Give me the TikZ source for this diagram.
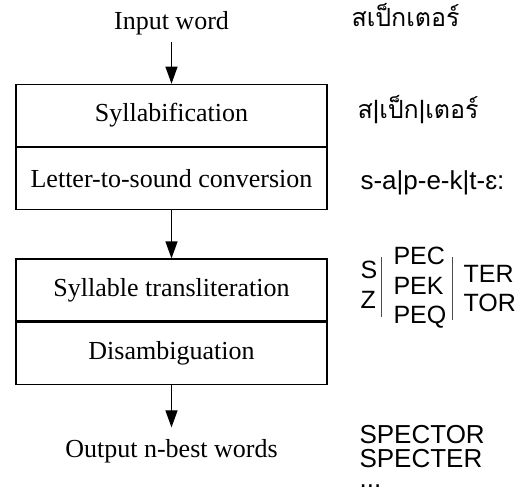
\documentclass[tikz,border=0pt]{standalone}
\usepackage{fontspec}
\setmainfont{Liberation Serif}
\setsansfont{Liberation Sans}
\newfontfamily\thaifont[Script=Thai]{Loma}
\usetikzlibrary{arrows.meta,positioning}
\tikzset{
  every picture/.style={line width=1.1pt},
  stage/.style={draw=black, minimum width=311pt, minimum height=62pt, inner sep=0pt,
    font=\fontsize{26}{31}\selectfont},
  ioword/.style={anchor=base, inner xsep=2pt, font=\fontsize{26}{31}\selectfont},
  arrow/.style={-{Triangle[length=17pt,width=12pt]}, draw=black},
  sample/.style={anchor=base west, inner sep=0pt, font=\sffamily\fontsize{26}{31}\selectfont},
  thaisample/.style={anchor=base west, inner sep=0pt, font=\thaifont\fontsize{25}{30}\selectfont},
  option/.style={sample, font=\sffamily\fontsize{25}{30}\selectfont},
  bar/.style={draw=black!70, line width=0.8pt},
}

\begin{document}
\begin{tikzpicture}[x=1pt, y=-1pt]
  \useasboundingbox (0,0) rectangle (522,489);
  \node[ioword, inner ysep=6pt] (in) at (171.5,30) {Input word};
  \node[stage] (syl) at (171.5,115.3) {Syllabification};
  \node[stage, below=0pt of syl] (lts) {Letter-to-sound conversion};
  \node[stage] (tr) at (171.5,290) {Syllable transliteration};
  \node[stage, below=0pt of tr] (dis) {Disambiguation};
  \node[ioword, inner ysep=11pt] (out) at (171.5,457) {Output n-best words};
  \foreach \a/\b in {in/syl, lts/tr, dis/out} \draw[arrow] (\a) -- (\b);

  \node[thaisample] (w) at (351,27) {สเป็กเตอร์};
  \node[thaisample] (ws) at (357,119) {ส|เป็ก|เตอร์};
  \node[sample] (ph) at (360,190) {s-a|p-e-k|t-ɛ:};
  \node[option] (s1) at (360,278) {S};
  \node[option] (s2) at (360,308) {Z};
  \node[option] (p1) at (393,264) {PEC};
  \node[option] (p2) at (393,294) {PEK};
  \node[option] (p3) at (393,323) {PEQ};
  \node[option] (t1) at (463,282) {TER};
  \node[option] (t2) at (463,311) {TOR};
  \draw[bar] (381,257) -- (381,317);
  \draw[bar] (452,257) -- (452,320);
  \node[sample] (r1) at (359,443) {SPECTOR};
  \node[sample] (r2) at (359,467) {SPECTER};
  \node[sample, text height=3pt, text depth=0pt] (r3) at (359,487.5) {...};
\end{tikzpicture}
\end{document}
